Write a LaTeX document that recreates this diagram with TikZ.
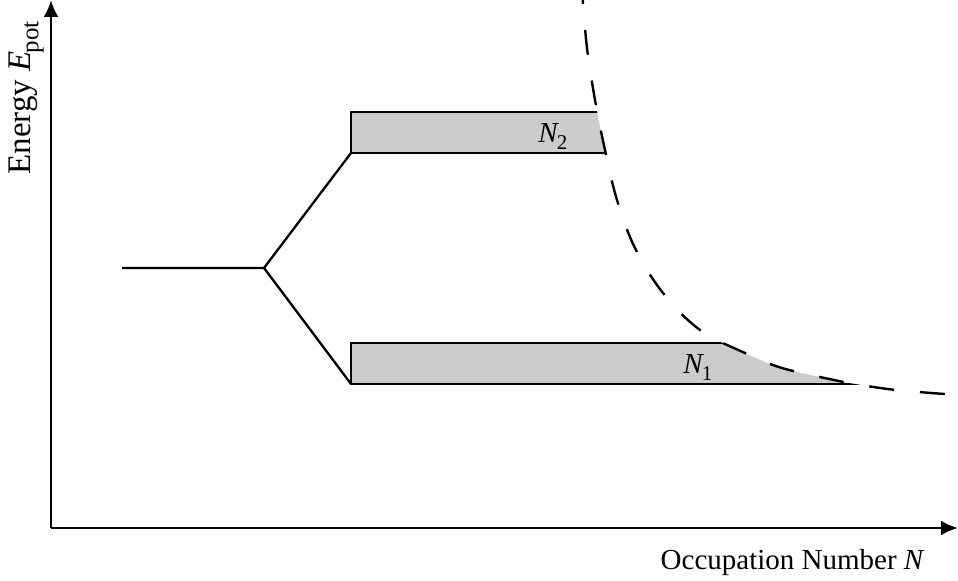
\documentclass[tikz,border=0pt]{standalone}
\usepackage{fontspec}
\setmainfont{Liberation Serif}
\usetikzlibrary{arrows.meta}
% lowered, smaller text for subscripts
\newcommand{\subtxt}[2][10.5]{\raisebox{-0.22em}{\fontsize{#1}{12}\selectfont #2}}
\begin{document}
\begin{tikzpicture}[x=0.5pt,y=-0.5pt,
  axis/.style={line width=1.4pt,-{Latex[length=8.5pt,width=7.5pt]}},
  level/.style={line width=1.15pt},
  band/.style={fill=black!20},
  edge/.style={line width=1.2pt},
  bound/.style={line width=1.2pt,dash pattern=on 12.5pt off 13pt,dash phase=9.5pt},
  lbl/.style={font=\fontsize{14.5}{17}\selectfont,inner sep=0pt}]
\useasboundingbox (0,0) rectangle (958,581);

% axes
\coordinate (o) at (51,528);
\coordinate (ytop) at (51,0);
\coordinate (xend) at (958,528);
\draw[axis] (o) -- (ytop);
\draw[axis] (o) -- (xend);

% splitting of the level
\coordinate (s) at (122,268);
\coordinate (v) at (264,268);
\coordinate (u) at (351,153);
\coordinate (l) at (351,384);
\draw[level] (s) -- (v) -- (u);
\draw[level] (v) -- (l);

% filled bands, cut off by the occupation boundary
\begin{scope}
  \clip (340,-10) -- plot[smooth,tension=0.6] coordinates {(582.6,-2) (587,48) (595,100) (605,150) (617,200) (635,248) (663,293) (700,330) (745,353) (782,368) (834,380) (855,384) (896,390) (958,395)} -- (970,600) -- (340,600) -- cycle;
  \fill[band] (351,112) rectangle (720,153);
  \draw[edge] (720,112) -- (351,112) -- (u) -- (720,153);
  \fill[band] (351,343) rectangle (900,384);
  \draw[edge] (900,343) -- (351,343) -- (l) -- (900,384);
\end{scope}

% the occupation boundary
\draw[bound] plot[smooth,tension=0.6] coordinates {(582.6,-2) (587,48) (595,100) (605,150) (617,200) (635,248) (663,293) (700,330) (745,353) (782,368) (834,380) (855,384) (896,390) (958,395)};

% labels
\node[lbl,anchor=base east] (xl) at (925,570) {Occupation Number \textit{N}};
\node[lbl,font=\fontsize{16.5}{19}\selectfont,rotate=90,anchor=base west] (yl) at (31,175) {Energy \textit{E}\kern-0.05em\subtxt[12.5]{pot}};
\node[lbl,anchor=base west] (n2) at (538,143) {\textit{N}\kern-0.08em\subtxt{2}};
\node[lbl,anchor=base west] (n1) at (683,374) {\textit{N}\kern-0.08em\subtxt{1}};
\end{tikzpicture}
\end{document}
